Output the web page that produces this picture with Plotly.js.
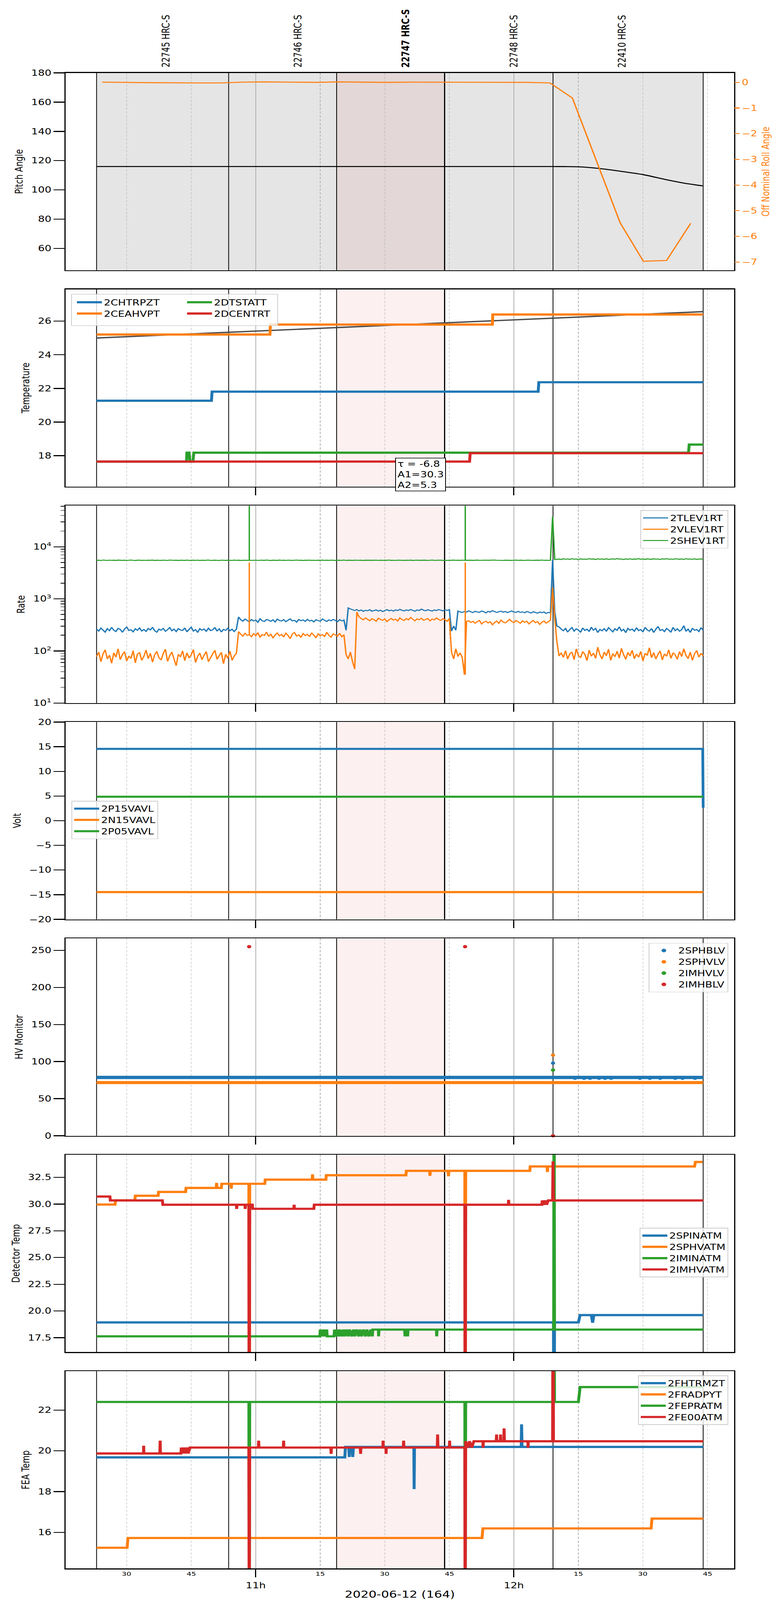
<!DOCTYPE html>
<html>
<head>
<meta charset="utf-8">
<script src="https://cdn.plot.ly/plotly-3.0.1.min.js"></script>
<style>
html, body {margin: 0; padding: 0; background: #fff; overflow: hidden;}
#wrap {width: 2000px; height: 100vh; overflow: hidden;}
#chart {width: 2000px; height: 5400px; transform-origin: 0 0;}
</style>
</head>
<body>
<div id="wrap"><div id="chart"></div></div>
<script>
// all times are minutes after 2020-06-12 10:00
const obsStart = [23.0, 53.7, 78.8, 103.9, 129.1];
const obsEnd = 164.0;
const obsIds = ['22745', '22746', '22747', '22748', '22410'];
const targetObs = 2;

const hourTicks = [60, 120];
const hourText = ['11h', '12h'];
const quarterTicks = [30, 45, 75, 90, 105, 135, 150, 165];
const quarterText = ['30', '45', '15', '30', '45', '15', '30', '45'];

// panel 1: pitch / roll
const pitchT = [23, 60, 100, 129, 132, 135, 140, 144.7, 150, 155.1, 159.8, 164];
const pitchV = [116, 116, 116, 116, 115.95, 115.8, 114.6, 112.8, 110.5, 107.2, 104.5, 102.7];
const rollT = [24.3, 35, 46, 52, 57, 62, 68, 74, 79, 85, 90, 96, 101, 107, 112, 118, 123, 128.4, 133.6, 144.7, 150.1, 155.5, 161.1];
const rollV = [0.01, -0.01, -0.02, -0.02, 0.01, 0.02, 0.01, 0.0, 0.02, 0.01, 0.0, 0.01, 0.01, 0.0, 0.01, 0.0, 0.0, -0.02, -0.61, -5.47, -6.97, -6.94, -5.49];

// panel 2: temperature
const fitT = [23, 164];
const fitV = [25.0, 26.57];
const tBlueT = [23, 49.7, 49.85, 125.65, 125.8, 164];
const tBlueV = [21.27, 21.27, 21.81, 21.81, 22.37, 22.37];
const tOrangeT = [23, 63.3, 63.4, 115.0, 115.1, 164];
const tOrangeV = [25.21, 25.21, 25.8, 25.8, 26.4, 26.4];
const tGreenT = [23, 43.9, 44.0, 44.5, 44.7, 45.4, 45.6, 160.6, 160.75, 164];
const tGreenV = [17.65, 17.65, 18.18, 18.18, 17.65, 17.65, 18.18, 18.18, 18.66, 18.66];
const tRedT = [23, 109.7, 109.85, 164];
const tRedV = [17.65, 17.65, 18.15, 18.15];
const fitText = 'τ = -6.8<br>A1=30.3<br>A2=5.3';

// panel 3: rates, one sample every 30 s from 10:23
const rateStart = 23;
const rateStep = 0.5;
const rateBlue = [
  262,240,275,251,230,268,245,283,250,236, 271,259,228,262,290,247,255,232,266,249,
  276,241,258,237,270,253,284,245,229,262, 250,271,238,256,281,244,262,235,268,252,
  247,276,233,259,285,241,257,226,268,250, 263,238,274,246,255,282,240,266,231,259,
  248,273,244,261,236,262,
  450,398,372,410,385,362,401,377,393,355, 415,380,368,402,389,371,396,360,408,384,
  375,399,366,390,412,378,387,358,401,381, 394,369,405,376,388,362,398,383,372,410,
  390,368,395,379,402,386,364,398,377,392,
  250,
  670,640,615,598,622,587,610,575,603,592, 618,580,596,612,585,605,570,598,621,590,
  608,583,615,596,630,602,588,612,596,625, 604,580,610,598,635,607,590,618,600,583,
  612,596,624,605,588,615,600,622,
  240,300,250,
  585,560,548,572,556,590,565,545,578,560, 552,583,566,540,575,558,592,570,548,566,
  580,555,572,545,568,585,560,550,575,548, 562,540,570,555,535,565,548,530,558,542,
  560,525,550,538,
  5600,560,300,
  290,262,245,270,230,258,281,240,265,252, 228,275,248,262,236,285,250,271,226,259,
  244,268,238,280,255,232,266,248,290,242, 260,225,272,250,263,238,279,246,258,231,
  284,252,240,269,226,262,295,247,258,235, 270,252,228,283,245,266,240,256,305,238,
  262,227,273,249,258,236,280,250
];
const rateOrange = [
  78,95,62,88,105,70,83,58,92,76, 110,68,85,97,64,80,72,101,59,87,
  93,66,79,104,71,90,61,84,98,74, 67,89,108,63,81,95,70,52,86,77,
  100,65,92,73,84,106,60,79,91,68, 83,97,62,75,88,103,69,81,94,57,
  86,72,99,66,80,90,
  235,210,192,218,200,205,188,215,196,225, 182,207,198,230,190,212,176,203,221,195,
  208,185,219,199,172,211,226,193,204,181, 216,197,209,188,223,200,178,213,195,206,
  190,228,199,184,212,203,192,218,187,205,
  85,70,95,62,45,
  560,450,420,395,430,405,380,415,398,372, 425,402,388,412,365,398,420,390,408,375,
  432,400,385,418,395,440,405,380,412,398, 425,388,402,418,378,410,395,430,402,385,
  415,398,372,420,
  95,70,110,78,92,75, 35, 370,
  380,352,370,340,365,385,330,358,372,345, 362,318,350,375,338,392,360,345,370,405,
  368,350,385,362,340,378,355,372,330,360, 385,348,366,322,355,375,342,362,390,
  1650,420,150,
  80,92,75,101,70,88,95,68,110,82, 74,97,86,65,104,79,91,72,118,84,
  70,95,81,108,66,89,77,99,73,112, 85,69,94,80,103,71,87,76,98,64,
  90,82,115,74,93,70,86,100,67,88, 79,105,72,92,84,69,97,78,110,82,
  71,95,66,88,102,76,90,81
];
const rateGreen = [
  5480,5530,5450,5560,5510,5470,5540,5490,5520,5460, 5550,5500,5480,5530,5470,5510,5560,5490,5450,5520,
  5540,5480,5510,5470,5530,5500,5550,5460,5520,5490, 5480,5540,5510,5470,5560,5500,5490,5530,5460,5520,
  5510,5480,5550,5470,5500,5530,5490,5540,5460,5520, 5480,5510,5560,5470,5500,5530,5490,5450,5540,5510,
  5480,5520,5500,5470,5550,5490,5530,5460,5510,5500, 5540,
  5510,
  5520,5490,5540,5470,5510,5530,5480,5560,5500,5460, 5530,5510,5480,5550,5490,5520,5470,5540,5500,5480,
  5510,5560,5490,5530,5460,5520,5500,5540,5480,5510, 5470,5530,5500,5550,5490,5520,5480,5540,5510,5460,
  5530,5500,5490,5560,5470,5520,5510,5480,5540,5500, 5490,5530,5460,5520,5510,5550,5480,5500,5540,5470,
  5520,5490,5530,5500,5560,5480,5510,5470,5540,5520, 5500,5480,5530,5490,5550,5460,5510,5540,5500,5520,
  5480,5530,5470,5510,5560,5490,5520,5500,5540,5480, 5510,5470,5530,5500,5550,5490,5520,5480,5540,5500,
  5520,
  5500,5530,5480,5520,5550,5490,5510,5470,5540,5500, 5520,5480,5560,5510,5490,5530,5470,5520,5500,5540,
  5480,5510,5550,5490,5530,5500,5470,5520,5540,5490, 5510,5480,5530,5500,5560,5490,5520,5470,5510,
  38000, 5700,
  5750,5820,5700,5880,5760,5850,5720,5900,5780,5830, 5690,5860,5770,5810,5740,5920,5790,5840,5710,5870,
  5780,5830,5750,5890,5720,5810,5860,5760,5940,5790, 5830,5700,5850,5780,5880,5740,5820,5790,5910,5760,
  5840,5720,5870,5800,5750,5890,5780,5830,5710,5860, 5790,5920,5760,5830,5740,5880,5800,5770,5850,5720,
  5900,5790,5830,5760,5870,5740,5810,5850,5780
];
// short bursts between samples (10:58.5 and 11:48.7)
const burstT = [58.5, 108.7];
const burstOrangeLo = [205, 35];
const burstOrangeHi = [5000, 5000];
const burstGreenLo = [5510, 5520];
const burstGreenHi = [200000, 200000];

// panel 4: volt
const vBlueT = [23, 163.9, 164.0];
const vBlueV = [14.56, 14.56, 2.63];
const vOrangeT = [23, 164];
const vOrangeV = [-14.47, -14.47];
const vGreenT = [23, 164];
const vGreenV = [4.86, 4.86];

// panel 5: HV monitor
const hvBandT = [23, 164];
const hvBlueBand = [78.6, 78.6];
const hvOrangeBand = [71.7, 71.7];
const hvBlueT = [129.1, 134.2, 136.3, 137.7, 139.8, 141.2, 142.6, 149.3, 151.6, 154.0, 157.5, 159.2, 162.1];
const hvBlueV = [97.9, 77.5, 77.5, 77.5, 77.5, 77.5, 77.5, 77.5, 77.5, 77.5, 77.5, 77.5, 77.5];
const hvOrangeT = [129.1];
const hvOrangeV = [108.7];
const hvGreenT = [129.1];
const hvGreenV = [88.6];
const hvRedT = [58.47, 108.66, 129.1];
const hvRedV = [254.9, 254.9, 0];

// panel 6: detector temp
const dBlueT = [23, 129.2, 129.3, 129.45, 135.0, 135.4, 138.0, 138.3, 138.6, 164];
const dBlueV = [18.93, 18.93, 0, 18.93, 18.93, 19.62, 19.62, 18.9, 19.62, 19.62];
const dOrangeT = [23, 27.3, 27.4, 31.9, 32.0, 37.3, 37.4, 43.7, 43.8, 50.8, 50.9, 51.0, 52.0, 52.1, 54.2,
  54.3, 54.4, 58.4, 58.47, 58.6, 62.1, 62.2, 73.1, 73.2, 73.3, 76.3, 76.4, 94.9, 95.0, 100.4,
  100.5, 100.6, 104.7, 104.8, 104.9, 108.6, 108.66, 108.8, 123.7, 123.8, 127.7, 127.8, 127.9, 162.0, 162.2, 163.9];
const dOrangeV = [29.96, 29.96, 30.35, 30.35, 30.78, 30.78, 31.14, 31.14, 31.51, 31.51, 31.98, 31.51, 31.51, 31.9, 31.9,
  31.44, 31.9, 31.9, 0, 31.9, 31.9, 32.29, 32.29, 32.78, 32.29, 32.29, 32.7, 32.7, 33.11, 33.11,
  32.65, 33.11, 33.11, 32.6, 33.11, 33.11, 0, 33.11, 33.11, 33.52, 33.52, 33.0, 33.52, 33.52, 33.94, 33.94];
const dGreenT = [23, 74.9, 75.0, 75.1, 75.4, 75.5, 76.0, 76.1, 76.5, 76.6,
  78.2, 78.3, 78.6, 78.9, 79.3, 79.6, 80.0, 80.4, 80.7, 81.1,
  81.5, 81.8, 82.3, 82.7, 83.0, 83.4, 83.9, 84.2, 84.6, 85.0,
  85.5, 85.8, 86.3, 86.7, 87.1, 87.2, 88.5, 88.55, 88.65, 94.6,
  94.7, 94.8, 95.2, 95.3, 95.4, 102.0, 102.05, 102.15, 129.25, 129.34,
  129.45, 164];
const dGreenV = [17.63, 17.63, 18.26, 17.63, 18.26, 17.63, 18.26, 17.63, 18.26, 17.63,
  17.63, 18.26, 17.63, 18.26, 17.63, 18.26, 17.63, 18.26, 17.63, 18.26,
  17.63, 18.26, 17.63, 18.26, 17.63, 18.26, 17.63, 18.26, 17.63, 18.26,
  17.63, 18.26, 17.63, 18.26, 17.63, 18.26, 18.26, 17.63, 18.26, 18.26,
  17.63, 18.26, 18.26, 17.63, 18.26, 18.26, 17.63, 18.26, 18.26, 50,
  18.26, 18.26];
const dRedT = [23, 26.1, 26.2, 38.3, 38.4, 55.5, 55.56, 55.65, 57.5, 57.54,
  57.65, 58.4, 58.47, 58.6, 59.2, 59.3, 68.85, 68.92, 69.0, 73.5,
  73.6, 108.6, 108.66, 108.8, 118.7, 118.77, 118.85, 126.5, 126.6, 126.9,
  127.3, 127.6, 128.0, 129.0, 129.1, 129.2, 164];
const dRedV = [30.71, 30.71, 30.34, 30.34, 29.94, 29.94, 29.55, 29.94, 29.94, 29.55,
  29.94, 29.94, 0, 29.94, 29.94, 29.56, 29.56, 29.94, 29.56, 29.56,
  29.94, 29.94, 0, 29.94, 29.94, 30.4, 29.94, 29.94, 30.34, 29.94,
  30.34, 29.94, 30.34, 30.34, 34.0, 30.34, 30.34];

// panel 7: FEA temp
const fBlueT = [23, 80.7, 80.85, 81.6, 81.75, 81.9, 82.4, 82.55, 82.7, 96.75, 96.81, 96.9, 121.7, 121.79, 121.9, 164];
const fBlueV = [19.68, 19.68, 20.19, 20.19, 19.7, 20.19, 20.19, 19.7, 20.19, 20.19, 18.12, 20.19, 20.19, 21.3, 20.19, 20.19];
const fOrangeT = [23, 30.1, 30.3, 112.6, 112.8, 151.9, 152.1, 164];
const fOrangeV = [15.24, 15.24, 15.72, 15.72, 16.19, 16.19, 16.67, 16.67];
const fGreenT = [23, 58.4, 58.47, 58.6, 108.6, 108.66, 108.8, 129.25, 129.34, 129.45, 135.0, 135.4, 164];
const fGreenV = [22.4, 22.4, 10, 22.4, 22.4, 10, 22.4, 22.4, 30, 22.4, 22.4, 23.13, 23.13];
const fRedT = [23, 33.9, 33.95, 34.0, 37.7, 37.78, 37.85, 42.6, 42.7, 43.0,
  43.3, 43.6, 44.0, 44.3, 44.7, 58.4, 58.47, 58.6, 60.6, 60.67,
  60.75, 66.4, 66.48, 66.55, 77.45, 77.52, 77.6, 84.3, 84.37, 84.45,
  89.55, 89.6, 89.65, 90.25, 90.3, 90.35, 94.3, 94.37, 94.45, 102.2,
  102.27, 102.35, 105.0, 105.06, 105.12, 108.6, 108.66, 108.8, 109.3, 109.7,
  110.2, 110.7, 112.8, 112.84, 112.9, 115.9, 115.98, 116.05, 116.85, 116.9,
  116.95, 117.65, 117.72, 117.8, 123.25, 123.3, 123.35, 129.0, 129.1, 129.2, 164];
const fRedV = [19.87, 19.87, 20.25, 19.87, 19.87, 20.5, 19.87, 19.87, 20.16, 19.87,
  20.16, 19.87, 20.16, 19.87, 20.16, 20.16, 10, 20.16, 20.16, 20.5,
  20.16, 20.16, 20.5, 20.16, 20.16, 19.85, 20.16, 20.16, 19.85, 20.16,
  20.16, 20.5, 20.16, 20.16, 19.85, 20.16, 20.16, 20.5, 20.16, 20.16,
  20.8, 20.16, 20.16, 20.5, 20.16, 20.16, 10, 20.47, 20.16, 20.47,
  20.16, 20.47, 20.47, 20.15, 20.47, 20.47, 20.8, 20.47, 20.47, 20.8,
  20.47, 20.47, 21.1, 20.47, 20.47, 20.15, 20.47, 20.47, 30, 20.47, 20.47];

// ---------------------------------------------------------------
const BLUE = '#1f77b4', ORANGE = '#ff7f0e', GREEN = '#2ca02c', RED = '#d62728';
const FONT = 'DejaVu Sans';
const BASE = Date.UTC(2020, 5, 12, 10, 0, 0);
function t(m) { return new Date(BASE + Math.round(m * 60000)).toISOString().slice(0, 23).replace('T', ' '); }
const T = arr => arr.map(t);

const W = 2000, H = 5400, ML = 168, MR = 120, MT = 246, MB = 106;
const PW = W - ML - MR, PH = H - MT - MB;
const PANEL_H = 666, PANEL_STEP = 730.3;
const px2x = px => (px - ML) / PW;
const px2y = py => (H - MB - py) / PH;
function dom(k) {
  const top = MT + PANEL_STEP * k;
  return [Math.max(0, px2y(top + PANEL_H)), Math.min(1, px2y(top))];
}
const xn = k => k === 0 ? 'x' : 'x' + (k + 1);
const yn = k => k === 0 ? 'y' : 'y' + (k + 1);
const xRange = [t(15.8), t(171.2)];

function line(x, y, color, width, k, name, legend, extra) {
  return Object.assign({
    type: 'scatter', mode: 'lines', x: T(x), y: y, xaxis: xn(k), yaxis: yn(k),
    line: {color: color, width: width}, name: name, legend: legend,
    showlegend: !!name
  }, extra || {});
}
function rate(y, color, name) {
  return {type: 'scatter', mode: 'lines', x0: t(rateStart), dx: rateStep * 60000, y: y,
    xaxis: 'x3', yaxis: 'y3', line: {color: color, width: 3.5}, name: name, legend: 'legend3', legendgroup: name};
}
function bursts(lo, hi, color, group) {
  const x = [], y = [];
  burstT.forEach((m, i) => { x.push(t(m), t(m), null); y.push(lo[i], hi[i], null); });
  return {type: 'scatter', mode: 'lines', x: x, y: y, xaxis: 'x3', yaxis: 'y3',
    line: {color: color, width: 3.5}, showlegend: false, legendgroup: group, legend: 'legend3'};
}

const data = [
  // panel 1
  line(pitchT, pitchV, 'black', 3.5, 0, null, null, {line: {color: 'black', width: 3.5, shape: 'spline', smoothing: 0.6}}),
  Object.assign(line(rollT, rollV, ORANGE, 3.5, 0, null, null), {yaxis: 'y8'}),
  // panel 2
  line(fitT, fitV, '#4a4a4a', 4.5, 1, null, null),
  line(tBlueT, tBlueV, BLUE, 7.5, 1, '2CHTRPZT', 'legend'),
  line(tOrangeT, tOrangeV, ORANGE, 7.5, 1, '2CEAHVPT', 'legend'),
  line(tGreenT, tGreenV, GREEN, 7.5, 1, '2DTSTATT', 'legend2'),
  line(tRedT, tRedV, RED, 7.5, 1, '2DCENTRT', 'legend2'),
  // panel 3
  rate(rateBlue, BLUE, '2TLEV1RT'),
  rate(rateOrange, ORANGE, '2VLEV1RT'),
  bursts(burstOrangeLo, burstOrangeHi, ORANGE, '2VLEV1RT'),
  rate(rateGreen, GREEN, '2SHEV1RT'),
  bursts(burstGreenLo, burstGreenHi, GREEN, '2SHEV1RT'),
  // panel 4
  line(vBlueT, vBlueV, BLUE, 7, 3, '2P15VAVL', 'legend4'),
  line(vOrangeT, vOrangeV, ORANGE, 7, 3, '2N15VAVL', 'legend4'),
  line(vGreenT, vGreenV, GREEN, 7, 3, '2P05VAVL', 'legend4'),
  // panel 5
  line(hvBandT, hvBlueBand, BLUE, 11, 4, null, null),
  line(hvBandT, hvOrangeBand, ORANGE, 10, 4, null, null),
  {type: 'scatter', mode: 'markers', x: T(hvBlueT), y: hvBlueV, xaxis: 'x5', yaxis: 'y5', marker: {color: BLUE, size: 11}, name: '2SPHBLV', legend: 'legend5'},
  {type: 'scatter', mode: 'markers', x: T(hvOrangeT), y: hvOrangeV, xaxis: 'x5', yaxis: 'y5', marker: {color: ORANGE, size: 11}, name: '2SPHVLV', legend: 'legend5'},
  {type: 'scatter', mode: 'markers', x: T(hvGreenT), y: hvGreenV, xaxis: 'x5', yaxis: 'y5', marker: {color: GREEN, size: 11}, name: '2IMHVLV', legend: 'legend5'},
  {type: 'scatter', mode: 'markers', x: T(hvRedT), y: hvRedV, xaxis: 'x5', yaxis: 'y5', marker: {color: RED, size: 11}, name: '2IMHBLV', legend: 'legend5', cliponaxis: false},
  // panel 6
  line(dBlueT, dBlueV, BLUE, 7.5, 5, '2SPINATM', 'legend6'),
  line(dOrangeT, dOrangeV, ORANGE, 7.5, 5, '2SPHVATM', 'legend6'),
  line(dGreenT, dGreenV, GREEN, 7.5, 5, '2IMINATM', 'legend6'),
  line(dRedT, dRedV, RED, 7.5, 5, '2IMHVATM', 'legend6'),
  // panel 7
  line(fBlueT, fBlueV, BLUE, 7.5, 6, '2FHTRMZT', 'legend7'),
  line(fOrangeT, fOrangeV, ORANGE, 7.5, 6, '2FRADPYT', 'legend7'),
  line(fGreenT, fGreenV, GREEN, 7.5, 6, '2FEPRATM', 'legend7'),
  line(fRedT, fRedV, RED, 7.5, 6, '2FE00ATM', 'legend7')
];

const tickFont = {family: FONT, size: 27, color: 'black'};

function xAxis(k) {
  return {
    type: 'date', range: xRange, anchor: yn(k), domain: [0, 1],
    showline: true, mirror: true, linecolor: 'black', linewidth: 3,
    tickmode: 'array', tickvals: T(hourTicks), ticktext: hourText,
    ticks: k === 0 ? '' : 'outside', ticklen: 27, tickwidth: 3, tickcolor: 'black',
    showticklabels: k === 6, tickfont: tickFont,
    showgrid: true, gridcolor: '#b0b0b0', gridwidth: 1.5,
    minor: {tickmode: 'array', tickvals: T(quarterTicks), ticks: '', showgrid: true,
      gridcolor: '#b0b0b0', gridwidth: 1.5, griddash: '8px,5px'},
    zeroline: false, automargin: false, fixedrange: true
  };
}

function yAxis(k, title, opts) {
  return Object.assign({
    domain: dom(k), anchor: xn(k),
    showline: true, mirror: true, linecolor: 'black', linewidth: 3,
    ticks: 'outside', ticklen: 28, tickwidth: 3, tickcolor: 'black',
    tickfont: tickFont, showgrid: false, zeroline: false, automargin: false,
    title: {text: title, font: {family: FONT, size: 27, color: 'black'}, standoff: 14}
  }, opts);
}

const legendBase = {
  font: {family: FONT, size: 27, color: 'black'},
  bgcolor: 'rgba(255,255,255,0.8)', bordercolor: '#cccccc', borderwidth: 2,
  xref: 'paper', yref: 'paper', yanchor: 'top', tracegroupgap: 0, itemwidth: 64
};
function legendAt(px, py, xanchor, extra) {
  return Object.assign({}, legendBase, {x: px2x(px), y: px2y(py), xanchor: xanchor}, extra || {});
}

const shapes = [];
for (let k = 0; k < 7; k++) {
  const yr = yn(k) + ' domain';
  if (k === 0) {
    shapes.push({type: 'rect', xref: xn(k), yref: yr, x0: t(obsStart[0]), x1: t(obsEnd), y0: 0, y1: 1,
      fillcolor: 'rgba(0,0,0,0.1)', line: {width: 0}, layer: 'below'});
  }
  shapes.push({type: 'rect', xref: xn(k), yref: yr, x0: t(obsStart[targetObs]), x1: t(obsStart[targetObs + 1]),
    y0: 0, y1: 1, fillcolor: 'rgba(200,0,0,0.06)', line: {width: 0}, layer: 'below'});
  obsStart.concat([obsEnd]).forEach((s, i) => {
    shapes.push({type: 'line', xref: xn(k), yref: yr, x0: t(s), x1: t(s), y0: 0, y1: 1,
      line: {color: 'black', width: i === targetObs + 1 ? 3 : 2}, layer: 'below'});
  });
}
// frame around the two-column temperature legend
shapes.push({type: 'rect', xref: 'paper', yref: 'paper', x0: px2x(183), x1: px2x(711), y0: px2y(993), y1: px2y(1099),
  fillcolor: 'rgba(255,255,255,0.8)', line: {color: '#cccccc', width: 2}, layer: 'above'});

const annotations = obsIds.map((id, i) => ({
  xref: 'x', yref: 'paper', x: t(obsStart[i] + 16), y: px2y(230), xanchor: 'center', yanchor: 'bottom',
  text: (i === targetObs ? '<b>' + id + ' HRC-S</b>' : id + ' HRC-S'), textangle: -90, showarrow: false,
  font: {family: FONT, size: 27, color: 'black'}
}));
annotations.push({
  xref: 'x2', yref: 'paper', x: t(92.4), y: px2y(1545), xanchor: 'left', yanchor: 'top',
  text: fitText, align: 'left', showarrow: false, bgcolor: 'white', bordercolor: 'black', borderwidth: 2, borderpad: 4,
  font: {family: FONT, size: 27, color: 'black'}
});
// quarter-hour labels under the bottom axis, placed on its time scale
quarterTicks.forEach((m, i) => annotations.push({
  xref: 'x7', yref: 'paper', x: t(m), y: px2y(5298), xanchor: 'center', yanchor: 'top',
  text: quarterText[i], showarrow: false, font: {family: FONT, size: 19, color: 'black'}
}));

const layout = {
  width: W, height: H, margin: {l: ML, r: MR, t: MT, b: MB},
  paper_bgcolor: 'white', plot_bgcolor: 'white',
  font: {family: FONT, size: 27, color: 'black'},
  xaxis: xAxis(0), xaxis2: xAxis(1), xaxis3: xAxis(2), xaxis4: xAxis(3),
  xaxis5: xAxis(4), xaxis6: xAxis(5),
  xaxis7: Object.assign(xAxis(6), {ticklabelstandoff: 4,
    title: {text: '2020-06-12 (164)', font: {family: FONT, size: 32, color: 'black'}, standoff: 10}}),
  yaxis: yAxis(0, 'Pitch Angle', {range: [45.1, 180], dtick: 20, tick0: 0}),
  yaxis8: {overlaying: 'y', anchor: 'x', side: 'right', range: [-7.32, 0.37], dtick: 1, tick0: 0,
    showline: false, showgrid: false, zeroline: false, ticks: 'outside', ticklen: 13, tickwidth: 3, tickcolor: ORANGE,
    tickfont: {family: FONT, size: 27, color: ORANGE}, automargin: false,
    title: {text: 'Off Nominal Roll Angle', font: {family: FONT, size: 27, color: ORANGE}, standoff: 12}},
  yaxis2: yAxis(1, 'Temperature', {range: [16.16, 27.9], dtick: 2, tick0: 0}),
  yaxis3: yAxis(2, 'Rate', {type: 'log', range: [1, 4.79], tickmode: 'array',
    tickvals: [10, 100, 1000, 10000], ticktext: ['10<sup>1</sup>', '10<sup>2</sup>', '10<sup>3</sup>', '10<sup>4</sup>'],
    minor: {ticks: 'outside', ticklen: 10, tickwidth: 2, tickcolor: 'black', dtick: 'D1', showgrid: false}}),
  yaxis4: yAxis(3, 'Volt', {range: [-20, 20], dtick: 5, tick0: 0}),
  yaxis5: yAxis(4, 'HV Monitor', {range: [0, 266], dtick: 50, tick0: 0}),
  yaxis6: yAxis(5, 'Detector Temp', {range: [16.15, 34.61], dtick: 2.5, tick0: 17.5, tickformat: '.1f'}),
  yaxis7: yAxis(6, 'FEA Temp', {range: [14.22, 23.91], dtick: 2, tick0: 0}),
  legend: legendAt(192, 996, 'left', {bgcolor: 'rgba(0,0,0,0)', borderwidth: 0}),
  legend2: legendAt(474, 996, 'left', {bgcolor: 'rgba(0,0,0,0)', borderwidth: 0}),
  legend3: legendAt(1865, 1722, 'right'),
  legend4: legendAt(183, 2703, 'left'),
  legend5: legendAt(1865, 3182, 'right', {itemsizing: 'constant'}),
  legend6: legendAt(1865, 4144, 'right'),
  legend7: legendAt(1865, 4642, 'right'),
  shapes: shapes,
  annotations: annotations,
  showlegend: true
};

// the window may be shorter than the 5400 px design: squeeze the finished chart to fit it
const chartDiv = document.getElementById('chart');
const sx = Math.min(1, window.innerWidth / W);
const sy = Math.min(1, window.innerHeight / H);
if (sx < 1 || sy < 1) chartDiv.style.transform = 'scale(' + sx + ',' + sy + ')';

Plotly.newPlot('chart', data, layout, {staticPlot: true});
</script>
</body>
</html>
